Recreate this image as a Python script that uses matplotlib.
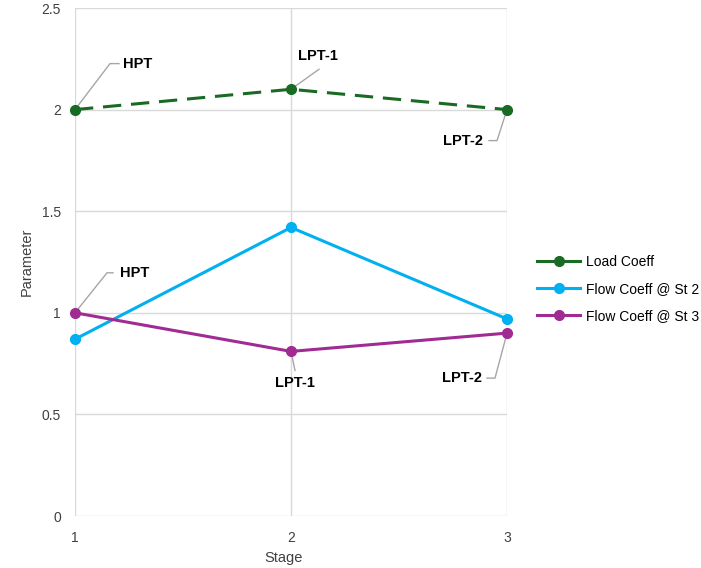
import matplotlib
matplotlib.use("Agg")
import matplotlib.pyplot as plt
from matplotlib.lines import Line2D

plt.rcParams['font.family'] = ['Liberation Sans', 'DejaVu Sans']

stages = [1, 2, 3]
load_coeff = [2.0, 2.1, 2.0]
flow_st2 = [0.87, 1.42, 0.97]
flow_st3 = [1.0, 0.81, 0.90]
series_names = ["Load Coeff", "Flow Coeff @ St 2", "Flow Coeff @ St 3"]
point_labels = ["HPT", "LPT-1", "LPT-2"]
y_ticks = [0, 0.5, 1, 1.5, 2, 2.5]
y_tick_labels = ["0", "0.5", "1", "1.5", "2", "2.5"]

colors = ["#196B24", "#00B0F0", "#A02B93"]

W, H = 701, 568
fig = plt.figure(figsize=(W / 100, H / 100), dpi=100)
ax = fig.add_axes([75 / W, (H - 516) / H, (507 - 75) / W, (516 - 8) / H])
ax.set_xlim(1, 3)
ax.set_ylim(0, 2.5)

ax.set_xticks(stages)
ax.set_xticklabels([str(s) for s in stages])
ax.set_yticks(y_ticks)
ax.set_yticklabels(y_tick_labels)
ax.grid(True, color="#d9d9d9", lw=1)
ax.set_axisbelow(True)
for s in ax.spines.values():
    s.set_visible(False)
ax.tick_params(axis="both", length=0, labelsize=10, labelcolor="#404040")
ax.tick_params(axis="y", pad=10)
ax.tick_params(axis="x", pad=11)

fig.text(284 / W, (H - 558) / H, "Stage", fontsize=10.5, color="#404040",
         ha="center", va="center")
fig.text(27 / W, (H - 262) / H, "Parameter", fontsize=10.5, color="#404040",
         ha="center", va="center", rotation=90)

data = [load_coeff, flow_st2, flow_st3]
styles = [(0, (6, 3.2)), "-", "-"]
handles = []
for vals, c, ls, name in zip(data, colors, styles, series_names):
    ax.plot(stages, vals, color=c, lw=2.2, ls=ls, marker="o", ms=7,
            clip_on=False, zorder=3, dash_capstyle="butt")
    handles.append(Line2D([0], [0], color=c, lw=2.2, marker="o", ms=7, label=name))

fig.legend(handles=handles, loc="center left", bbox_to_anchor=(537 / W, (H - 289) / H),
           frameon=False, fontsize=10, handlelength=3.1, handletextpad=0.4,
           labelspacing=0.95, borderpad=0, borderaxespad=0)

# data labels with leader lines (offsets in pixels: knee, horizontal end, text anchor)
labels = [
    (0, 0, "HPT", (35, 46), 44, (48, 46), "left"),
    (0, 1, "LPT-1", (28, 20), None, (27, 33), "center"),
    (0, 2, "LPT-2", (-10, -31), -18, (-24, -31), "right"),
    (2, 0, "HPT", (32, 40), 38, (45, 40), "left"),
    (2, 1, "LPT-1", (4, -19), None, (4, -32), "center"),
    (2, 2, "LPT-2", (-12, -45), -20, (-25, -45), "right"),
]
inv = ax.transData.inverted()
for si, pi, txt, knee, hend, toff, ha in labels:
    px, py = ax.transData.transform((stages[pi], data[si][pi]))
    pts = [(px, py), (px + knee[0], py + knee[1])]
    if hend is not None:
        pts.append((px + hend, py + knee[1]))
    dpts = inv.transform(pts)
    ax.plot(dpts[:, 0], dpts[:, 1], color="#a6a6a6", lw=1, zorder=2, clip_on=False)
    tx, ty = inv.transform((px + toff[0], py + toff[1]))
    ax.text(tx, ty, txt, ha=ha, va="center", fontsize=10.5, fontweight="bold",
            color="black", zorder=4)

fig.savefig("out.png", dpi=100)
